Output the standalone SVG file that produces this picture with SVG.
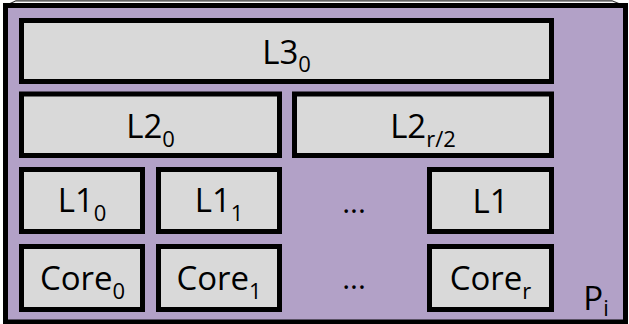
<svg xmlns="http://www.w3.org/2000/svg" width="629" height="324" viewBox="0 0 629 324">
  <style>
    .pkg { fill: #b2a1c7; stroke: #000; stroke-width: 5; }
    .box { fill: #d9d9d9; stroke: #000; stroke-width: 5; }
    .lbl { font-family: "Open Sans", "Liberation Sans", sans-serif; font-size: 33px; fill: #000; text-anchor: middle; }
    .sub { font-size: 22px; }
    .dots { font-size: 30px; }
    .edge { fill: none; stroke: #333; stroke-width: 1.2; }
  </style>

  <!-- partial bracket edge running along the top -->
  <g id="connectors">
    <path class="edge" d="M9,4 L16,0.8 L612,0.8 L620,4"/>
  </g>

  <!-- processor package -->
  <g id="package">
    <rect class="pkg" x="5.5" y="5.5" width="620" height="316.5"/>
    <text class="lbl" x="596" y="310">P<tspan class="sub" dy="6">i</tspan></text>
  </g>

  <g id="l3-0">
    <rect class="box" x="21.5" y="20.5" width="530" height="61"/>
    <text class="lbl" x="286.5" y="64">L3<tspan class="sub" dy="8">0</tspan></text>
  </g>

  <g id="l2-0">
    <rect class="box" x="21.5" y="94" width="258" height="61.5"/>
    <text class="lbl" x="150.5" y="138">L2<tspan class="sub" dy="9">0</tspan></text>
  </g>

  <g id="l2-r2">
    <rect class="box" x="294.5" y="94" width="257" height="61.5"/>
    <text class="lbl" x="423" y="138">L2<tspan class="sub" dy="9">r/2</tspan></text>
  </g>

  <g id="l1-0">
    <rect class="box" x="21.5" y="169.5" width="121" height="62"/>
    <text class="lbl" x="82" y="212">L1<tspan class="sub" dy="9">0</tspan></text>
  </g>

  <g id="l1-1">
    <rect class="box" x="158.5" y="169.5" width="121" height="62"/>
    <text class="lbl" x="219" y="212">L1<tspan class="sub" dy="9">1</tspan></text>
  </g>

  <g id="l1-dots">
    <text class="lbl dots" x="354" y="213">...</text>
  </g>

  <g id="l1-r">
    <rect class="box" x="429.5" y="169.5" width="122" height="62"/>
    <text class="lbl" x="490.5" y="213">L1</text>
  </g>

  <g id="core-0">
    <rect class="box" x="21.5" y="246.5" width="121" height="63"/>
    <text class="lbl" x="82.5" y="290">Core<tspan class="sub" dy="9">0</tspan></text>
  </g>

  <g id="core-1">
    <rect class="box" x="158.5" y="246.5" width="121" height="63"/>
    <text class="lbl" x="219" y="290">Core<tspan class="sub" dy="9">1</tspan></text>
  </g>

  <g id="core-dots">
    <text class="lbl dots" x="354" y="289">...</text>
  </g>

  <g id="core-r">
    <rect class="box" x="429.5" y="246.5" width="122" height="63"/>
    <text class="lbl" x="490.5" y="290">Core<tspan class="sub" dy="9">r</tspan></text>
  </g>
</svg>
